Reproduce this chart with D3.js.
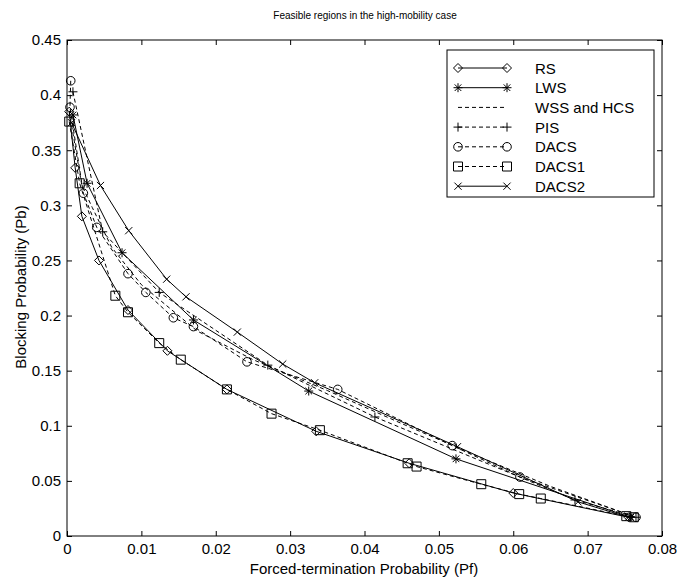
<!DOCTYPE html>
<html>
<head>
<meta charset="utf-8">
<script src="https://cdn.jsdelivr.net/npm/d3@7"></script>
<style>
html,body{margin:0;padding:0;background:#fff;}
text{font-family:"Liberation Sans",Arial,sans-serif;fill:#000;}
</style>
</head>
<body>
<svg id="chart" width="677" height="582"></svg>
<script>
// ---- data ----
const xTickValues = [0, 0.01, 0.02, 0.03, 0.04, 0.05, 0.06, 0.07, 0.08];
const xTickLabels = ["0", "0.01", "0.02", "0.03", "0.04", "0.05", "0.06", "0.07", "0.08"];
const yTickValues = [0, 0.05, 0.1, 0.15, 0.2, 0.25, 0.3, 0.35, 0.4, 0.45];
const yTickLabels = ["0", "0.05", "0.1", "0.15", "0.2", "0.25", "0.3", "0.35", "0.4", "0.45"];

const seriesNames = ["RS", "LWS", "WSS and HCS", "PIS", "DACS", "DACS1", "DACS2"];

const rsX = [0.0003, 0.0011, 0.002, 0.0043, 0.0082, 0.0135, 0.0215, 0.0335, 0.046, 0.060, 0.0755];
const rsY = [0.385, 0.334, 0.29, 0.25, 0.205, 0.168, 0.133, 0.095, 0.066, 0.039, 0.017];

const lwsX = [0.0008, 0.0027, 0.0074, 0.017, 0.0325, 0.0523, 0.0758];
const lwsY = [0.382, 0.32, 0.257, 0.196, 0.1315, 0.070, 0.017];

const wssX = [0.0003, 0.002, 0.0034, 0.006, 0.010, 0.0175, 0.025, 0.035, 0.045, 0.055, 0.065, 0.0765];
const wssY = [0.385, 0.318, 0.298, 0.262, 0.228, 0.186, 0.160, 0.132, 0.102, 0.073, 0.045, 0.017];

const pisX = [0.0008, 0.0048, 0.0124, 0.027, 0.0414, 0.0683, 0.0765];
const pisY = [0.403, 0.276, 0.221, 0.155, 0.108, 0.0327, 0.017];

const dacsX = [0.0005, 0.0004, 0.0022, 0.004, 0.0082, 0.0106, 0.0143, 0.017, 0.0242, 0.0364, 0.0518, 0.0609, 0.0765];
const dacsY = [0.413, 0.389, 0.311, 0.28, 0.238, 0.221, 0.198, 0.19, 0.158, 0.133, 0.082, 0.0535, 0.017];

const dacs1X = [0.0003, 0.0017, 0.0065, 0.0082, 0.0124, 0.0153, 0.0215, 0.0275, 0.034, 0.0458, 0.047, 0.0557, 0.0608, 0.0637, 0.0752, 0.0762];
const dacs1Y = [0.376, 0.32, 0.218, 0.203, 0.175, 0.16, 0.133, 0.111, 0.096, 0.066, 0.063, 0.047, 0.038, 0.034, 0.018, 0.017];

const dacs2X = [0.0006, 0.0045, 0.0083, 0.0134, 0.016, 0.0229, 0.029, 0.0333, 0.0525, 0.0687, 0.0755];
const dacs2Y = [0.375, 0.318, 0.277, 0.233, 0.217, 0.185, 0.156, 0.139, 0.081, 0.031, 0.017];

// ---- drawing ----
const svg = d3.select("#chart");
const L = 67, R = 662, T = 40, B = 536;
const x = d3.scaleLinear().domain([0, 0.08]).range([L, R]);
const y = d3.scaleLinear().domain([0, 0.45]).range([B, T]);

const series = [
  {name: seriesNames[0], xs: rsX, ys: rsY, dash: null, marker: "diamond"},
  {name: seriesNames[1], xs: lwsX, ys: lwsY, dash: null, marker: "star"},
  {name: seriesNames[2], xs: wssX, ys: wssY, dash: "4,3", marker: null},
  {name: seriesNames[3], xs: pisX, ys: pisY, dash: "4,3", marker: "plus"},
  {name: seriesNames[4], xs: dacsX, ys: dacsY, dash: "4,3", marker: "circle"},
  {name: seriesNames[5], xs: dacs1X, ys: dacs1Y, dash: "4,3", marker: "square"},
  {name: seriesNames[6], xs: dacs2X, ys: dacs2Y, dash: null, marker: "x"}
];

function markerPath(type) {
  switch (type) {
    case "diamond": { const s = 4.5; return `M0,${-s}L${s},0L0,${s}L${-s},0Z`; }
    case "square": { const s = 4.5; return `M${-s},${-s}H${s}V${s}H${-s}Z`; }
    case "plus": { const s = 4.5; return `M${-s},0H${s}M0,${-s}V${s}`; }
    case "x": { const s = 3.6; return `M${-s},${-s}L${s},${s}M${-s},${s}L${s},${-s}`; }
    case "star": {
      const s = 4.5, d = 3.3;
      return `M${-s},0H${s}M0,${-s}V${s}M${-d},${-d}L${d},${d}M${-d},${d}L${d},${-d}`;
    }
    case "circle": {
      const r = 4.3;
      return `M${r},0A${r},${r} 0 1,1 ${-r},0A${r},${r} 0 1,1 ${r},0Z`;
    }
  }
  return "";
}

// axes box
svg.append("rect").attr("x", L).attr("y", T).attr("width", R - L).attr("height", B - T)
  .attr("fill", "none").attr("stroke", "#000").attr("stroke-width", 1);

const fmtX = (d, i) => xTickLabels[i];
const fmtY = (d, i) => yTickLabels[i];

const axB = svg.append("g").attr("transform", `translate(0,${B})`)
  .call(d3.axisBottom(x).tickValues(xTickValues).tickFormat(fmtX).tickSizeInner(-5).tickSizeOuter(0).tickPadding(7));
const axL = svg.append("g").attr("transform", `translate(${L},0)`)
  .call(d3.axisLeft(y).tickValues(yTickValues).tickFormat(fmtY).tickSizeInner(-5).tickSizeOuter(0).tickPadding(6));
const axT = svg.append("g").attr("transform", `translate(0,${T})`)
  .call(d3.axisTop(x).tickValues(xTickValues).tickFormat("").tickSizeInner(-5).tickSizeOuter(0));
const axR = svg.append("g").attr("transform", `translate(${R},0)`)
  .call(d3.axisRight(y).tickValues(yTickValues).tickFormat("").tickSizeInner(-5).tickSizeOuter(0));
[axB, axL, axT, axR].forEach(g => {
  g.select(".domain").remove();
  g.selectAll("text").style("font-size", "15px").attr("font-family", null);
});

// lines
const line = d3.line().x(d => x(d[0])).y(d => y(d[1]));
const plot = svg.append("g");
series.forEach(s => {
  const pts = s.xs.map((v, i) => [v, s.ys[i]]);
  plot.append("path").attr("d", line(pts)).attr("fill", "none").attr("stroke", "#000")
    .attr("stroke-width", 1).attr("stroke-dasharray", s.dash);
  if (s.marker) {
    plot.selectAll(null).data(pts).enter().append("path")
      .attr("transform", d => `translate(${x(d[0])},${y(d[1])})`)
      .attr("d", markerPath(s.marker)).attr("fill", "none").attr("stroke", "#000").attr("stroke-width", 1);
  }
});

// title and labels
svg.append("text").attr("x", 365).attr("y", 19).attr("text-anchor", "middle")
  .style("font-size", "10px").text("Feasible regions in the high-mobility case");
svg.append("text").attr("x", 364).attr("y", 574).attr("text-anchor", "middle")
  .style("font-size", "15px").text("Forced-termination Probability (Pf)");
svg.append("text").attr("transform", "translate(26,287) rotate(-90)").attr("text-anchor", "middle")
  .style("font-size", "15px").text("Blocking Probability (Pb)");

// legend
const lg = svg.append("g");
lg.append("rect").attr("x", 447).attr("y", 50).attr("width", 207).attr("height", 147)
  .attr("fill", "#fff").attr("stroke", "#000").attr("stroke-width", 1);
series.forEach((s, i) => {
  const yy = 68 + i * 19.7;
  lg.append("line").attr("x1", 458).attr("x2", 507).attr("y1", yy).attr("y2", yy)
    .attr("stroke", "#000").attr("stroke-width", 1).attr("stroke-dasharray", s.dash);
  if (s.marker) {
    [458, 507].forEach(xx => lg.append("path").attr("transform", `translate(${xx},${yy})`)
      .attr("d", markerPath(s.marker)).attr("fill", "none").attr("stroke", "#000"));
  }
  lg.append("text").attr("x", 535).attr("y", yy + 5.5).style("font-size", "15px").text(s.name);
});
</script>
</body>
</html>
